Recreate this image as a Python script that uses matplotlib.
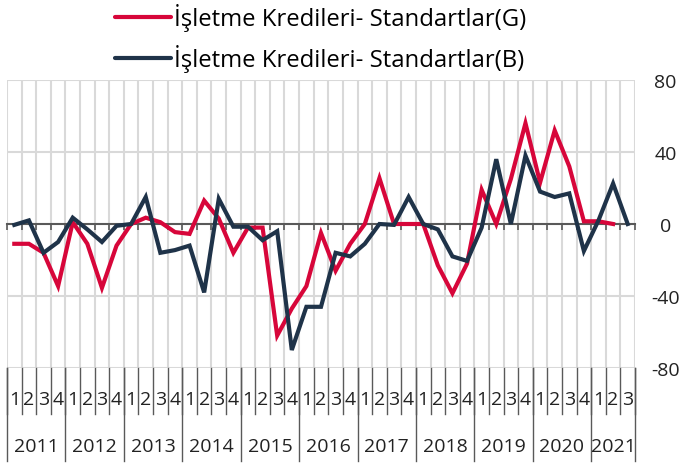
import matplotlib
matplotlib.use("Agg")
import matplotlib.pyplot as plt
from matplotlib.lines import Line2D

plt.rcParams["font.family"] = ["Open Sans", "DejaVu Sans"]

# quarterly data, 2011Q1 .. 2021Q3
years = [str(y) for y in range(2011, 2022)]
quarters = ["1", "2", "3", "4"] * 10 + ["1", "2", "3"]

standart_g = [-11, -11, -16, -34.5, 1, -11, -35.5, -12, 0, 3.5,
              1, -4.5, -5.5, 13, 3, -16, -2, -2, -62, -47,
              -34.5, -5, -26, -11, 0, 25.5, 0, 0, 0, -23,
              -38.5, -22, 19, 0, 25, 56, 23, 52, 32, 1.5,
              1.5, 0]
standart_b = [-0.5, 2, -16, -10, 3.5, -3, -10, -1, 0, 15,
              -16, -14.5, -12, -38, 14, -1.5, -1.5, -9, -4, -70,
              -46, -46, -16, -18, -11, 0, -0.5, 15, 0, -3,
              -18, -20.5, -2, 36, 0, 38, 18, 15, 17, -15,
              2, 22.5, 0]

y_ticks = [-80, -40, 0, 40, 80]

red = "#d7063a"
navy = "#1f3349"
grid_c = "#d9d9d9"
axis_c = "#595959"

fig = plt.figure(figsize=(6.81, 4.64), dpi=100)
ax = fig.add_axes([7 / 681, 1 - 369 / 464, 628 / 681, 288 / 464])

n = len(quarters)
ax.plot(range(len(standart_g)), standart_g, color=red, lw=3, solid_joinstyle="miter",
        label="İşletme Kredileri- Standartlar(G)", zorder=3)
ax.plot(range(len(standart_b)), standart_b, color=navy, lw=3, solid_joinstyle="miter",
        label="İşletme Kredileri- Standartlar(B)", zorder=4)

ax.set_xlim(-0.5, n - 0.5)
ax.set_ylim(-80, 80)

bounds = [i - 0.5 for i in range(n + 1)]
ax.set_xticks(bounds)
ax.set_xticklabels([])
ax.tick_params(axis="x", length=4, width=1.2, color=axis_c, direction="out")
ax.spines["bottom"].set_position(("data", 0))
ax.spines["bottom"].set_color(axis_c)
ax.spines["bottom"].set_linewidth(1.5)
ax.spines["bottom"].set_zorder(2)
for s in ["top", "left", "right"]:
    ax.spines[s].set_visible(False)

for b in bounds:
    ax.axvline(b, color=grid_c, lw=1.5, zorder=0)
for t in y_ticks:
    if t != 0:
        ax.axhline(t, color=grid_c, lw=1.5, zorder=0)

ax.yaxis.tick_right()
ax.set_yticks(y_ticks)
ax.set_yticklabels([str(t) for t in y_ticks], ha="center")
ax.tick_params(axis="y", length=0, pad=22, labelsize=14, labelcolor="#222222")

# multi-level category axis
tr = ax.get_xaxis_transform()
for i, q in enumerate(quarters):
    ax.text(i, -0.107, q, transform=tr, ha="center", va="center", fontsize=14, color="#222222")
for b in bounds:
    ax.add_line(Line2D([b, b], [0, -0.158], transform=tr, color=axis_c, lw=1, clip_on=False))
for k, yr in enumerate(years):
    start = 4 * k - 0.5
    end = min(4 * k + 3.5, n - 0.5)
    ax.text((start + end) / 2, -0.271, yr, transform=tr, ha="center", va="center",
            fontsize=14, color="#222222")
    ax.add_line(Line2D([start, start], [0, -0.323], transform=tr, color=axis_c, lw=1, clip_on=False))
ax.add_line(Line2D([n - 0.5, n - 0.5], [0, -0.323], transform=tr, color=axis_c, lw=1, clip_on=False))

leg = fig.legend(loc="upper left", bbox_to_anchor=(115 / 681, 1 - 4 / 464), frameon=False,
                 fontsize=17.2, handlelength=2.35, handletextpad=0.12, labelspacing=0.56,
                 borderaxespad=0, borderpad=0)
for h in leg.get_lines():
    h.set_solid_capstyle("round")

fig.savefig("out.png", dpi=100)
